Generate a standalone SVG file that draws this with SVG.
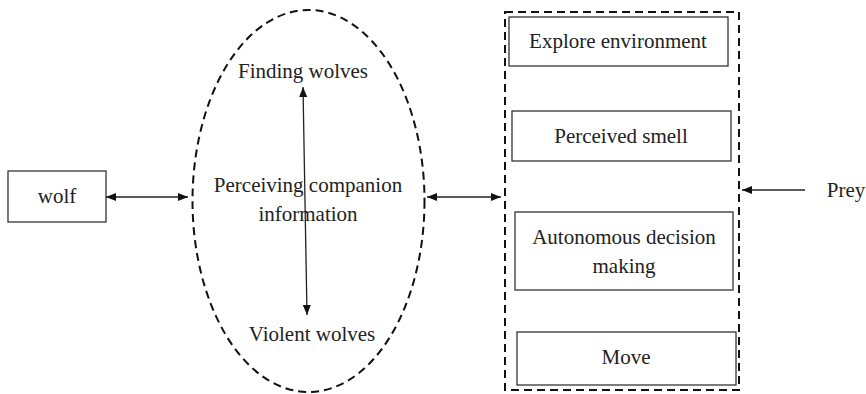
<svg xmlns="http://www.w3.org/2000/svg" width="866" height="394" viewBox="0 0 866 394">
<defs>
<marker id="ah" viewBox="0 0 10 8" refX="10" refY="4" markerWidth="10" markerHeight="8" markerUnits="userSpaceOnUse" orient="auto-start-reverse">
<path d="M0,0 L10,4 L0,8 Z" fill="#111"/>
</marker>
<style>
text{font-family:'Liberation Serif','DejaVu Serif',serif;font-size:21px;fill:#222;text-anchor:middle}
.box{fill:#fff;stroke:#333;stroke-width:1.3}
.dash{fill:none;stroke:#111;stroke-width:2;stroke-dasharray:8 5}
.con{stroke:#222;stroke-width:1.3;fill:none}
</style>
</defs>
<rect width="866" height="394" fill="#fff"/>
<g id="wolf">
<rect class="box" x="8" y="171" width="98" height="51"/>
<text x="57" y="203">wolf</text>
</g>
<g id="companion">
<ellipse class="dash" cx="308.5" cy="201" rx="116" ry="191"/>
<text x="303" y="78">Finding wolves</text>
<text x="308" y="192">Perceiving companion</text>
<text x="308" y="221">information</text>
<text x="312" y="341">Violent wolves</text>
</g>
<g id="behaviour">
<rect class="dash" x="505" y="12" width="234" height="378"/>
</g>
<g id="explore">
<rect class="box" x="509" y="17" width="219" height="49"/>
<text x="618" y="48">Explore environment</text>
</g>
<g id="smell">
<rect class="box" x="512" y="111" width="219" height="50"/>
<text x="621" y="143">Perceived smell</text>
</g>
<g id="decision">
<rect class="box" x="515" y="212" width="218" height="78"/>
<text x="624" y="244">Autonomous decision</text>
<text x="624" y="273">making</text>
</g>
<g id="move">
<rect class="box" x="517" y="332" width="219" height="53"/>
<text x="626" y="364">Move</text>
</g>
<g id="prey">
<text x="846" y="197">Prey</text>
</g>
<g id="connectors">
<line class="con" x1="106" y1="197" x2="188" y2="197" marker-start="url(#ah)" marker-end="url(#ah)"/>
<line class="con" x1="303" y1="87" x2="307" y2="315" marker-start="url(#ah)" marker-end="url(#ah)"/>
<line class="con" x1="427" y1="197" x2="501" y2="197" marker-start="url(#ah)" marker-end="url(#ah)"/>
<line class="con" x1="805" y1="190" x2="742" y2="190" marker-end="url(#ah)"/>
</g>
</svg>
